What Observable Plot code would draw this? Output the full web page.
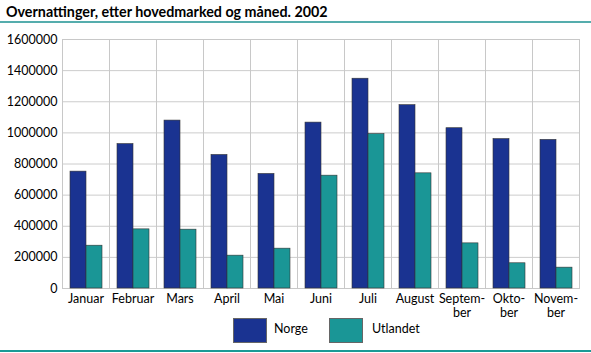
<!DOCTYPE html>
<html>
<head>
<meta charset="utf-8">
<script src="https://cdn.jsdelivr.net/npm/d3@7"></script>
<script src="https://cdn.jsdelivr.net/npm/@observablehq/plot@0.6"></script>
<style>
  html, body { margin: 0; padding: 0; background: #fff; }
  #wrap { position: relative; width: 591px; height: 353px; font-family: Lato, sans-serif; color: #000; overflow: hidden; }
  #title { position: absolute; left: 6px; top: 3px; font-weight: bold; font-size: 14.3px; white-space: nowrap; }
  #topline { position: absolute; left: 0; top: 21px; width: 591px; height: 2px; background: #55adad; }
  #chart { position: absolute; left: 0; top: 24px; }
  #legend { position: absolute; left: 0; top: 318px; width: 591px; height: 24px; }
  .sw { position: absolute; top: 0; width: 32px; height: 23px; border: 1px solid #666; }
  .lt { position: absolute; top: 3px; font-size: 12.5px; }
  #botline { position: absolute; left: 0; top: 350px; width: 591px; height: 2px; background: #1a9a96; }
</style>
</head>
<body>
<div id="wrap">
  <div id="title">Overnattinger, etter hovedmarked og måned. 2002</div>
  <div id="topline"></div>
  <div id="chart"></div>
  <div id="legend"></div>
  <div id="botline"></div>
</div>
<script>
const months = ["Januar","Februar","Mars","April","Mai","Juni","Juli","August","September","Oktober","November"];
const monthLabels = ["Januar","Februar","Mars","April","Mai","Juni","Juli","August","Septem-\nber","Okto-\nber","Novem-\nber"];
const series = ["Norge","Utlandet"];
const norge = [751000, 928000, 1079000, 858000, 736000, 1066000, 1348000, 1178000, 1030000, 960000, 955000];
const utlandet = [275000, 380000, 378000, 211000, 256000, 725000, 992000, 740000, 290000, 162000, 134000];
const yTicks = [0, 200000, 400000, 600000, 800000, 1000000, 1200000, 1400000, 1600000];
const colors = ["#1a3391", "#1a9696"];

const data = months.flatMap((m, i) => [
  {month: m, series: "Norge", value: norge[i]},
  {month: m, series: "Utlandet", value: utlandet[i]}
]);

const chart = Plot.plot({
  width: 591,
  height: 300,
  marginLeft: 57,
  marginRight: 7,
  marginTop: 15,
  marginBottom: 36,
  style: {fontFamily: "Lato, sans-serif", fontSize: "12.5px", color: "#000", background: "transparent", overflow: "visible"},
  fx: {domain: months, padding: 0},
  x: {domain: series, paddingInner: 0, paddingOuter: 0.41, axis: null},
  y: {domain: [0, 1600000], ticks: yTicks, tickFormat: d3.format("d"), tickSize: 0, tickPadding: 5, label: null},
  color: {domain: series, range: colors},
  marks: [
    Plot.gridY(yTicks, {stroke: "#cccccc", strokeOpacity: 1}),
    Plot.frame({stroke: "#c8c8c8"}),
    Plot.barY(data, {fx: "month", x: "series", y: "value", fill: "series", stroke: "#333", strokeWidth: 0.6}),
    Plot.axisFx({anchor: "bottom", tickSize: 0, tickPadding: 4, label: null, lineHeight: 1.15,
                 tickFormat: d => monthLabels[months.indexOf(d)]})
  ]
});
document.getElementById("chart").appendChild(chart);

const legend = document.getElementById("legend");
const pos = [{sx: 233, tx: 274}, {sx: 329, tx: 372}];
series.forEach((s, i) => {
  const sw = document.createElement("div");
  sw.className = "sw";
  sw.style.left = pos[i].sx + "px";
  sw.style.background = colors[i];
  legend.appendChild(sw);
  const t = document.createElement("div");
  t.className = "lt";
  t.style.left = pos[i].tx + "px";
  t.textContent = s;
  legend.appendChild(t);
});
</script>
</body>
</html>
